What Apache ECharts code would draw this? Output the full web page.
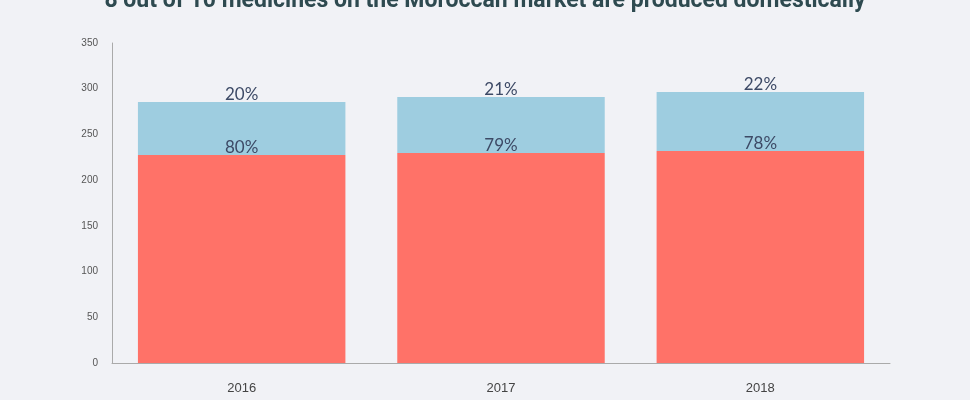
<!DOCTYPE html><html><head><meta charset="utf-8">
<script src="https://cdn.jsdelivr.net/npm/echarts@6/dist/echarts.min.js"></script>
<style>html,body{margin:0;background:#f1f2f6}#c{width:970px;height:400px}</style></head><body><div id="c"></div>
<script>
const categories=['2016','2017','2018'];
const domestic=[227.5,229.7,232];
const imported=[58,61.3,64.5];
const domesticLabels=['80%','79%','78%'];
const importedLabels=['20%','21%','22%'];
const chart=echarts.init(document.getElementById('c'));
const lbl=(arr)=>({show:true,position:'top',distance:-1,color:'#3d4a66',fontSize:17,fontFamily:'Lato',formatter:p=>arr[p.dataIndex]});
chart.setOption({
 backgroundColor:'#f1f2f6',
 title:{text:'8 out of 10 medicines on the Moroccan market are produced domestically',left:'center',top:-15,textStyle:{fontSize:23,fontWeight:'bold',color:'#2e4a50',fontFamily:'Roboto'}},
 grid:{left:112,right:80,top:43,bottom:37},
 xAxis:{type:'category',data:categories,axisTick:{show:false},axisLine:{lineStyle:{color:'#aaa'}},axisLabel:{color:'#444',fontSize:13,margin:19}},
 yAxis:{type:'value',min:0,max:350,interval:50,splitLine:{show:false},axisLine:{show:true,lineStyle:{color:'#aaa'}},axisLabel:{color:'#555',fontSize:10,margin:14}},
 series:[
  {type:'bar',stack:'a',data:domestic,barWidth:'80%',itemStyle:{color:'#ff7268'},label:lbl(domesticLabels)},
  {type:'bar',stack:'a',data:imported,itemStyle:{color:'#9ecde0'},label:lbl(importedLabels)}
 ]
});
</script></body></html>
